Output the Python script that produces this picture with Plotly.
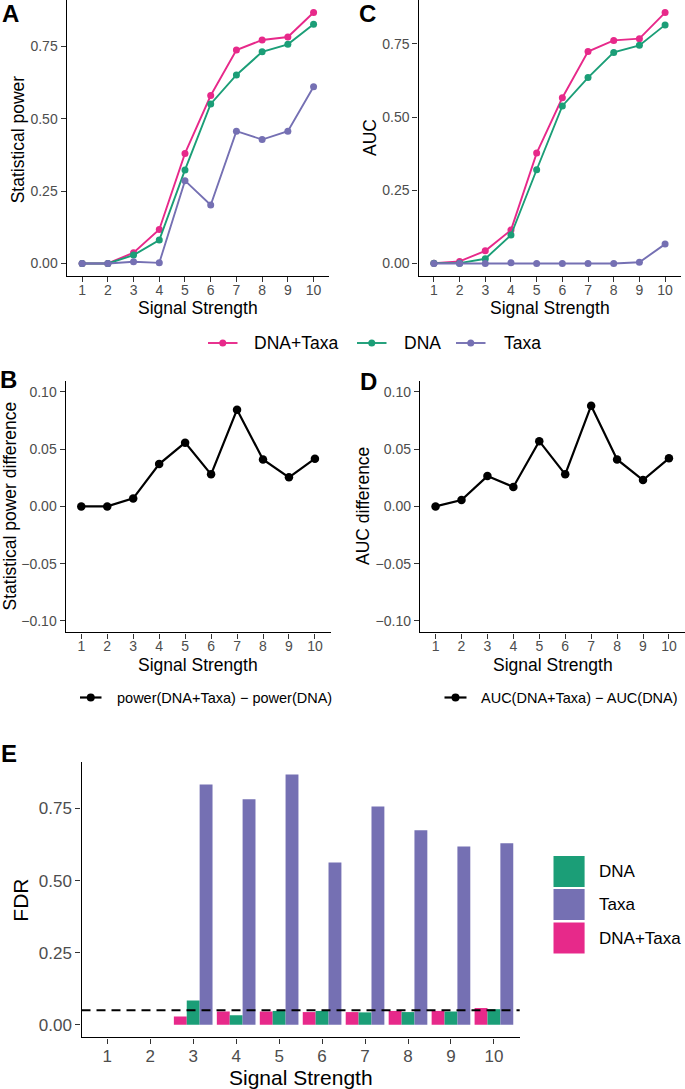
import plotly.graph_objects as go

# ---------------- data ----------------
signal = [1, 2, 3, 4, 5, 6, 7, 8, 9, 10]
tick_labels = [str(v) for v in signal]

power_dna_taxa = [0.0, 0.0, 0.037, 0.117, 0.380, 0.580, 0.737, 0.772, 0.782, 0.867]
power_dna = [0.0, 0.0, 0.029, 0.081, 0.323, 0.551, 0.651, 0.731, 0.757, 0.826]
power_taxa = [0.0, 0.0, 0.006, 0.002, 0.286, 0.202, 0.457, 0.428, 0.457, 0.610]

auc_dna_taxa = [0.001, 0.007, 0.043, 0.114, 0.377, 0.566, 0.724, 0.762, 0.768, 0.857]
auc_dna = [0.001, 0.001, 0.016, 0.097, 0.320, 0.538, 0.635, 0.721, 0.745, 0.815]
auc_taxa = [0.0, 0.0, 0.0, 0.002, 0.0, 0.0, 0.0, 0.0, 0.004, 0.066]

power_diff = [0.0, 0.0, 0.007, 0.037, 0.0557, 0.028, 0.0845, 0.041, 0.0254, 0.0417]
auc_diff = [0.0, 0.0055, 0.0265, 0.017, 0.057, 0.028, 0.088, 0.041, 0.023, 0.042]

fdr_dna_taxa = [0.0, 0.0, 0.029, 0.046, 0.046, 0.044, 0.044, 0.048, 0.048, 0.058]
fdr_dna = [0.0, 0.0, 0.084, 0.033, 0.048, 0.048, 0.043, 0.044, 0.046, 0.054]
fdr_taxa = [0.0, 0.0, 0.833, 0.782, 0.868, 0.563, 0.757, 0.674, 0.618, 0.629]
fdr_threshold = 0.05

series_names = ["DNA+Taxa", "DNA", "Taxa"]
colors = {"DNA+Taxa": "#E7298A", "DNA": "#1B9E77", "Taxa": "#7570B3"}

# ---------------- layout helpers ----------------
W, H = 685, 1089
FONT = "Liberation Sans, Arial, Helvetica, sans-serif"
TICK_COL = "#4D4D4D"


def xd(a, b):
    return [a / W, b / W]


def yd(top, bottom):
    return [1 - bottom / H, 1 - top / H]


def px(x):
    return x / W


def py(y):
    return 1 - y / H


fig = go.Figure()

# line panels
line_sets = [
    ("x", "y", [power_dna_taxa, power_dna, power_taxa]),
    ("x2", "y2", [auc_dna_taxa, auc_dna, auc_taxa]),
]
for xa, ya, vals in line_sets:
    for name, v in zip(series_names, vals):
        fig.add_trace(go.Scatter(
            x=signal, y=v, mode="lines+markers", name=name, showlegend=False,
            line=dict(color=colors[name], width=1.9),
            marker=dict(color=colors[name], size=7),
            xaxis=xa, yaxis=ya))

for xa, ya, v in [("x3", "y3", power_diff), ("x4", "y4", auc_diff)]:
    fig.add_trace(go.Scatter(
        x=signal, y=v, mode="lines+markers", showlegend=False,
        line=dict(color="black", width=2.2),
        marker=dict(color="black", size=8.5),
        xaxis=xa, yaxis=ya))

# bar panel (dodge order: DNA+Taxa, DNA, Taxa)
for name, v in [("DNA+Taxa", fdr_dna_taxa), ("DNA", fdr_dna), ("Taxa", fdr_taxa)]:
    fig.add_trace(go.Bar(
        x=signal, y=v, name=name, showlegend=False,
        marker=dict(color=colors[name], line=dict(width=0)),
        xaxis="x5", yaxis="y5"))

axis_common = dict(
    showline=True, linecolor="black", linewidth=1.4,
    ticks="outside", ticklen=5, tickwidth=1.3, tickcolor="#333333",
    showgrid=False, zeroline=False, mirror=False,
    tickfont=dict(family=FONT, size=14, color=TICK_COL),
)

x_common = dict(axis_common, tickmode="array", tickvals=signal, ticktext=tick_labels,
                range=[0.4, 10.6], ticklabelstandoff=-4)

y_top_ticks = [0, 0.25, 0.5, 0.75]
y_top_text = ["0.00", "0.25", "0.50", "0.75"]
y_diff_ticks = [-0.1, -0.05, 0, 0.05, 0.1]
y_diff_text = ["\u22120.10", "\u22120.05", "0.00", "0.05", "0.10"]

fig.update_layout(
    width=W, height=H,
    margin=dict(l=0, r=0, t=0, b=0),
    paper_bgcolor="white", plot_bgcolor="white",
    font=dict(family=FONT, color="black"),
    barmode="group", bargap=0.1, bargroupgap=0,
    xaxis=dict(x_common, domain=xd(66.7, 329), anchor="y"),
    yaxis=dict(axis_common, domain=yd(0, 276), anchor="x", range=[-0.0434, 0.910],
               tickmode="array", tickvals=y_top_ticks, ticktext=y_top_text),
    xaxis2=dict(x_common, domain=xd(418.5, 680.5), anchor="y2"),
    yaxis2=dict(axis_common, domain=yd(0, 276), anchor="x2", range=[-0.0429, 0.900],
                tickmode="array", tickvals=y_top_ticks, ticktext=y_top_text),
    xaxis3=dict(x_common, domain=xd(65.7, 330.5), anchor="y3"),
    yaxis3=dict(axis_common, domain=yd(380.5, 632.3), anchor="x3", range=[-0.11, 0.11],
                tickmode="array", tickvals=y_diff_ticks, ticktext=y_diff_text),
    xaxis4=dict(x_common, domain=xd(420, 684.5), anchor="y4"),
    yaxis4=dict(axis_common, domain=yd(380.5, 632.3), anchor="x4", range=[-0.11, 0.11],
                tickmode="array", tickvals=y_diff_ticks, ticktext=y_diff_text),
    xaxis5=dict(x_common, domain=xd(81.5, 519.7), anchor="y5", ticklabelstandoff=-2,
                tickfont=dict(family=FONT, size=17, color=TICK_COL)),
    yaxis5=dict(axis_common, domain=yd(762, 1037.3), anchor="x5", range=[-0.0434, 0.911],
                tickmode="array", tickvals=y_top_ticks, ticktext=y_top_text,
                tickfont=dict(family=FONT, size=17, color=TICK_COL)),
)

# FDR threshold
fig.add_shape(type="line", xref="x5 domain", yref="y5", x0=0, x1=1,
              y0=fdr_threshold, y1=fdr_threshold,
              line=dict(color="black", width=2, dash="9px,6px"))

annotations = []


def ann(text, x, y, size, angle=0, xanchor="center", color="black"):
    annotations.append(dict(text=text, x=px(x), y=py(y), xref="paper", yref="paper",
                            showarrow=False, xanchor=xanchor, yanchor="middle",
                            textangle=angle, font=dict(family=FONT, size=size, color=color)))


# panel letters
for letter, x, y in [("A", 10, 14), ("C", 367.5, 14), ("B", 8.5, 379), ("D", 368, 381), ("E", 9, 753)]:
    ann("<b>" + letter + "</b>", x, y, 24)

# axis titles
ann("Signal Strength", 197.9, 308, 17.5)
ann("Signal Strength", 549.5, 308, 17.5)
ann("Statistical power", 18.3, 139, 17.5, angle=-90)
ann("AUC", 370, 138, 17.5, angle=-90)
ann("Signal Strength", 198, 665, 17.5)
ann("Signal Strength", 552.5, 665, 17.5)
ann("Statistical power difference", 9, 506.5, 17.5, angle=-90)
ann("AUC difference", 362.5, 506.5, 17.5, angle=-90)
ann("Signal Strength", 300.6, 1077, 21)
ann("FDR", 19.7, 900, 21, angle=-90)


def key_line(x0, x1, y, color, r, width):
    fig.add_shape(type="line", xref="paper", yref="paper",
                  x0=px(x0), x1=px(x1), y0=py(y), y1=py(y),
                  line=dict(color=color, width=width))
    xc = (x0 + x1) / 2
    fig.add_shape(type="circle", xref="paper", yref="paper",
                  x0=px(xc - r), x1=px(xc + r), y0=py(y + r), y1=py(y - r),
                  fillcolor=color, line=dict(color=color, width=0))


# top legend
legend_y = 343
for name, lx0, tx in [("DNA+Taxa", 208, 252), ("DNA", 357, 401.7), ("Taxa", 456, 502)]:
    key_line(lx0, lx0 + 29.5, legend_y, colors[name], 3.5, 1.9)
    ann(name, tx, legend_y, 17.5, xanchor="left")

# B / D legends
key_line(80, 101.5, 697.5, "black", 4, 2.2)
ann("power(DNA+Taxa) \u2212 power(DNA)", 115, 697.5, 14.5, xanchor="left")
key_line(444.5, 466.5, 697.5, "black", 4, 2.2)
ann("AUC(DNA+Taxa) \u2212 AUC(DNA)", 478.5, 697.5, 14.5, xanchor="left")

# E legend
for name, top in [("DNA", 856), ("Taxa", 889), ("DNA+Taxa", 922.5)]:
    fig.add_shape(type="rect", xref="paper", yref="paper",
                  x0=px(553.5), x1=px(584.6), y0=py(top + 31), y1=py(top),
                  fillcolor=colors[name], line=dict(width=0))
    ann(name, 596.5, top + 15.5, 17, xanchor="left")

fig.update_layout(annotations=annotations)

fig.write_html(
    "out.html",
    config={"displayModeBar": False},
    post_script="document.body.style.margin='0';document.body.style.overflow='hidden';",
)
